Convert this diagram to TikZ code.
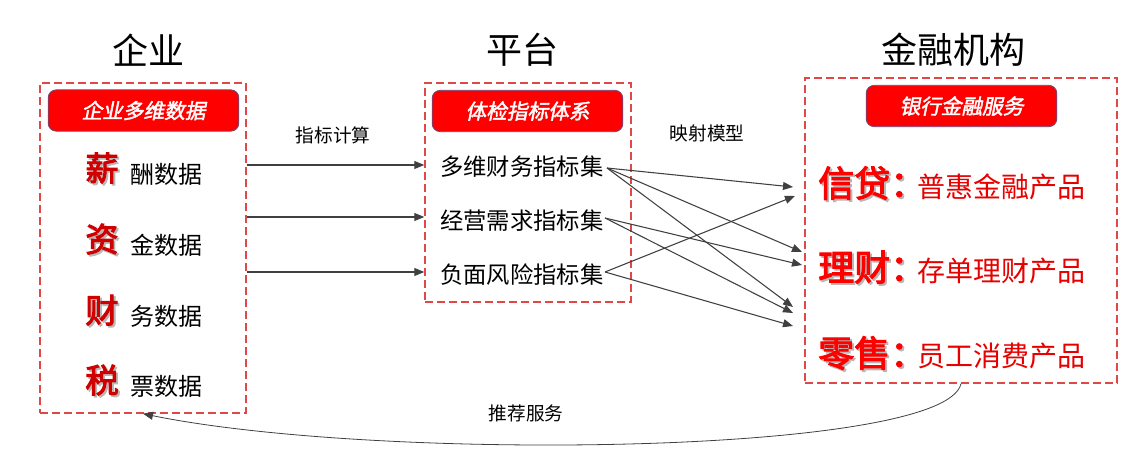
\documentclass[tikz,border=0pt]{standalone}
\usepackage{fontspec}
\setmainfont{Noto Sans CJK SC}
\newfontfamily\hdrfont[FakeSlant=0.2,FakeBold=2]{Noto Sans CJK SC}
\newfontfamily\heavyfont[FakeBold=3]{Noto Sans CJK SC}
\usepackage{xcolor}
\usepackage{tikz}
\usetikzlibrary{arrows.meta,fit,positioning}
\definecolor{boxred}{HTML}{E04848}
\definecolor{hdrred}{HTML}{FF0000}
\definecolor{hdredge}{HTML}{6B4A7E}
\definecolor{keyred}{HTML}{D00000}
\definecolor{prodred}{HTML}{E60000}
\definecolor{arrowgray}{HTML}{404040}
\newcommand{\shadowed}[1]{\rlap{\kern1.4pt\raisebox{-1.4pt}{\textcolor{black!28}{#1}}}#1}
\tikzset{
  groupbox/.style={draw=boxred,line width=1.1pt,dash pattern=on 6pt off 3pt,inner sep=0pt},
  hdrbox/.style={draw=hdredge,fill=hdrred,rounded corners=6pt,line width=0.6pt,inner sep=0pt,
    minimum width=143pt,minimum height=31pt,
    text=white,font=\hdrfont\fontsize{15.5}{18}\selectfont},
  titletxt/.style={font=\fontsize{27}{30}\selectfont,inner sep=0pt},
  keychar/.style={text=keyred,font=\heavyfont\fontsize{25}{28}\selectfont,inner sep=0pt},
  datatxt/.style={font=\fontsize{18}{20}\selectfont,anchor=west,inner sep=0pt},
  settxt/.style={font=\fontsize{17.5}{20}\selectfont,anchor=west,inner sep=0pt},
  prodkey/.style={text=hdrred,font=\heavyfont\fontsize{27}{30}\selectfont,anchor=west,inner sep=0pt},
  prodtxt/.style={text=prodred,font=\fontsize{21}{24}\selectfont,anchor=west,inner sep=0pt},
  edgelab/.style={font=\fontsize{14}{16}\selectfont,inner sep=0pt},
  flow/.style={draw=arrowgray,line width=0.8pt,-{Triangle[length=7.5pt,width=6pt]}},
}

\begin{document}
\begin{tikzpicture}[x=0.75pt,y=-0.75pt]
  \useasboundingbox (0,0) rectangle (1131,457);

  % column titles
  \node[titletxt] (entTitle) at (148,50) {企业};
  \node[titletxt] (platTitle) at (522,50) {平台};
  \node[titletxt] (bankTitle) at (953,50) {金融机构};

  % dashed groups
  \node[groupbox,fit={(40,83) (246,413)}] (entBox) {};
  \node[groupbox,fit={(425,83) (631,302)}] (platBox) {};
  \node[groupbox,fit={(805,78) (1117,383)}] (bankBox) {};

  % red headers
  \node[hdrbox] (entHdr) at (143.5,110.5) {企业多维数据};
  \node[hdrbox] (platHdr) at (527.5,111) {体检指标体系};
  \node[hdrbox] (bankHdr) at (961.5,106) {银行金融服务};

  % enterprise data
  \node[keychar] (kSalary) at (102,169) {\shadowed{薪}};
  \node[datatxt] (dSalary) at (130,174) {酬数据};
  \node[keychar] (kFund) at (102,240) {\shadowed{资}};
  \node[datatxt] (dFund) at (130,245) {金数据};
  \node[keychar] (kFinance) at (102,311) {\shadowed{财}};
  \node[datatxt] (dFinance) at (130,316) {务数据};
  \node[keychar] (kTax) at (102,381) {\shadowed{税}};
  \node[datatxt] (dTax) at (130,386) {票数据};

  % indicator sets
  \node[settxt] (finSet) at (440,167) {多维财务指标集};
  \node[settxt] (opSet) at (440,221) {经营需求指标集};
  \node[settxt] (riskSet) at (440,275) {负面风险指标集};

  % bank products
  \node[prodkey] (kLoan) at (818,184) {\shadowed{信贷：}};
  \node[prodtxt] (pLoan) at (917,187) {普惠金融产品};
  \node[prodkey] (kWealth) at (818,268) {\shadowed{理财：}};
  \node[prodtxt] (pWealth) at (917,271) {存单理财产品};
  \node[prodkey] (kRetail) at (818,354) {\shadowed{零售：}};
  \node[prodtxt] (pRetail) at (917,356) {员工消费产品};

  % computing arrows
  \draw[flow] (entBox.east |- 0,165) -- (platBox.west |- 0,165);
  \draw[flow] (entBox.east |- 0,217) -- (platBox.west |- 0,217);
  \draw[flow] (entBox.east |- 0,272) -- (platBox.west |- 0,272);
  \node[edgelab] (calcLab) at (333,135) {指标计算};

  % mapping model
  \coordinate (inLoanA) at (793,187);
  \coordinate (inLoanB) at (795,196);
  \coordinate (inWealthA) at (802,252);
  \coordinate (inWealthB) at (802,265);
  \coordinate (inRetailA) at (793,307);
  \coordinate (inRetailB) at (793,313);
  \coordinate (inRetailC) at (793,326);
  \coordinate (outFin) at (607,168);
  \coordinate (outOp) at (605,218);
  \coordinate (outRisk) at (605,272);
  \draw[flow] (outFin) -- (inLoanA);
  \draw[flow] (outFin) -- (inWealthA);
  \draw[flow] (outFin) -- (inRetailA);
  \draw[flow] (outOp) -- (inWealthB);
  \draw[flow] (outOp) -- (inRetailB);
  \draw[flow] (outRisk) -- (inLoanB);
  \draw[flow] (outRisk) -- (inRetailC);
  \node[edgelab] (mapLab) at (707,133) {映射模型};

  % recommendation back to enterprise
  \draw[draw=arrowgray,line width=0.6pt,-{Triangle[length=7.5pt,width=6pt]}]
    (bankBox.south) .. controls (945,455) and (380,462) .. (entBox.south);
  \node[edgelab] (recLab) at (526,413) {推荐服务};
\end{tikzpicture}
\end{document}
